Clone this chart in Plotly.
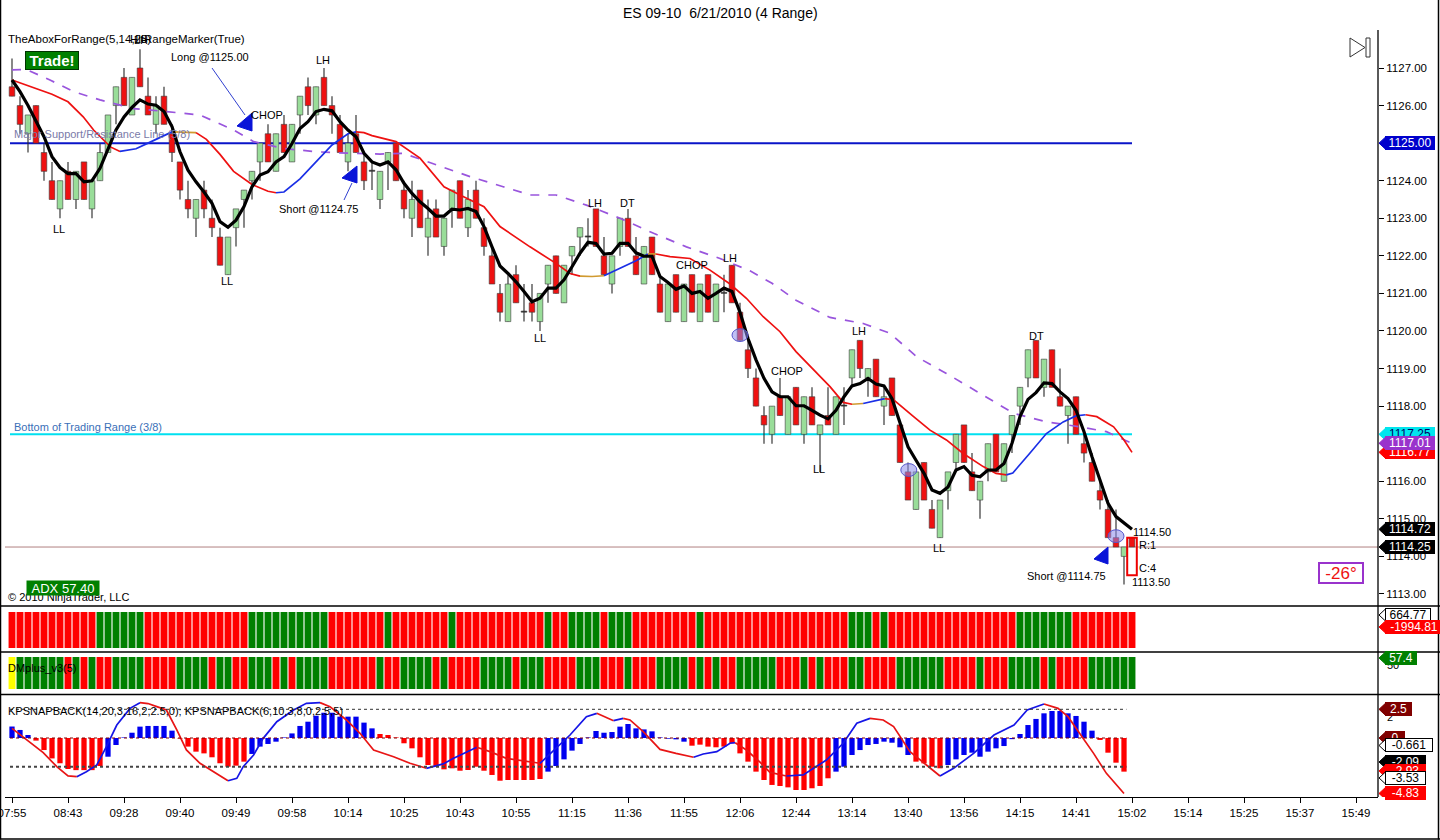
import plotly.graph_objects as go

# ---------------------------------------------------------------- data
TITLE = "ES 09-10  6/21/2010 (4 Range)"
time_labels = ["07:55", "08:43", "09:28", "09:40", "09:49", "09:58", "10:14", "10:25",
               "10:43", "10:55", "11:15", "11:36", "11:55", "12:06", "12:44", "13:14",
               "13:40", "13:56", "14:15", "14:41", "15:02", "15:14", "15:25", "15:37", "15:49"]
bars_per_label = 7
price_ticks = [1113, 1114, 1115, 1116, 1117, 1118, 1119, 1120, 1121, 1122, 1123, 1124, 1125, 1126, 1127]

opens = [
    1126.5, 1126.0, 1125.25, 1126.0, 1124.75, 1124.0, 1123.25, 1124.25, 1123.5, 1124.5,
    1123.25, 1124.0, 1124.75, 1126.0, 1126.75, 1125.75, 1127.0, 1126.25, 1125.5, 1126.25,
    1125.25, 1124.5, 1123.5, 1123.0, 1123.75, 1123.0, 1122.5, 1121.5, 1122.75, 1123.5,
    1124.0, 1124.5, 1125.25, 1124.25, 1125.5, 1124.5, 1125.75, 1126.5, 1125.75, 1126.75,
    1126.0, 1125.5, 1124.5, 1125.25, 1124.5, 1124.25, 1123.5, 1124.5, 1125.0, 1123.75,
    1123.0, 1123.75, 1122.5, 1123.25, 1122.25, 1123.25, 1124.0, 1122.75, 1123.75, 1122.75,
    1122.0, 1121.0, 1120.25, 1121.5, 1120.5, 1120.75, 1120.25, 1121.25, 1122.0, 1120.75,
    1122.0, 1122.5, 1122.5, 1123.25, 1122.0, 1121.25, 1122.25, 1123.0, 1122.0, 1121.25,
    1122.5, 1121.25, 1120.25, 1121.5, 1120.25, 1121.5, 1120.25, 1121.5, 1120.25, 1121.0,
    1121.75, 1120.5, 1119.5, 1118.75, 1117.75, 1117.25, 1118.25, 1117.25, 1118.5, 1117.25,
    1118.25, 1117.25, 1117.75, 1117.25, 1118.0, 1118.75, 1119.75, 1118.75, 1119.25, 1118.0,
    1118.75, 1117.5, 1116.25, 1115.25, 1116.5, 1115.25, 1114.5, 1115.75, 1116.5, 1117.5,
    1116.25, 1115.5, 1116.25, 1117.25, 1116.0, 1117.25, 1118.0, 1118.75, 1119.75, 1118.5,
    1119.5, 1118.25, 1117.75, 1118.25, 1117.0, 1116.5, 1115.75, 1115.25, 1114.5, 1114.0,
    1114.5]
highs = [
    1127.25, 1126.25, 1125.75, 1126.0, 1125.0, 1124.5, 1124.0, 1124.5, 1124.25, 1124.5,
    1124.0, 1125.0, 1125.75, 1126.5, 1127.0, 1126.75, 1127.5, 1126.75, 1126.25, 1126.5,
    1125.5, 1124.5, 1124.0, 1123.5, 1124.0, 1123.5, 1122.75, 1122.5, 1123.25, 1123.75,
    1124.25, 1125.0, 1125.5, 1125.25, 1125.75, 1125.5, 1126.25, 1126.75, 1126.5, 1127.0,
    1126.25, 1125.75, 1125.25, 1125.75, 1124.75, 1124.5, 1124.25, 1124.75, 1125.0, 1124.0,
    1124.0, 1123.75, 1123.5, 1123.5, 1123.0, 1123.75, 1124.0, 1123.75, 1124.0, 1123.0,
    1122.25, 1121.25, 1121.5, 1121.75, 1121.25, 1121.25, 1121.0, 1121.75, 1122.0, 1121.75,
    1122.25, 1122.75, 1123.0, 1123.25, 1122.5, 1122.0, 1123.0, 1123.25, 1122.5, 1122.25,
    1122.5, 1121.5, 1121.25, 1121.5, 1121.25, 1121.5, 1121.25, 1121.5, 1121.25, 1121.5,
    1121.75, 1120.75, 1119.75, 1119.0, 1118.0, 1118.0, 1118.75, 1118.25, 1118.5, 1118.25,
    1118.5, 1117.5, 1118.5, 1118.25, 1118.5, 1119.5, 1119.75, 1119.0, 1119.25, 1118.5,
    1118.75, 1117.5, 1116.5, 1116.25, 1116.5, 1115.5, 1115.5, 1116.25, 1117.25, 1117.5,
    1116.75, 1116.0, 1117.0, 1117.25, 1117.0, 1117.75, 1118.5, 1119.5, 1119.75, 1119.25,
    1119.5, 1119.0, 1118.0, 1118.25, 1117.25, 1116.75, 1116.0, 1115.5, 1115.25, 1114.25,
    1114.5]
lows = [
    1126.25, 1125.25, 1124.75, 1125.0, 1124.0, 1123.5, 1123.0, 1123.5, 1123.25, 1123.5,
    1123.0, 1124.0, 1124.75, 1125.5, 1126.0, 1125.75, 1126.5, 1125.75, 1125.25, 1125.5,
    1124.5, 1123.5, 1123.0, 1122.5, 1123.0, 1122.5, 1121.75, 1121.5, 1122.25, 1122.75,
    1123.5, 1124.0, 1124.5, 1124.25, 1124.75, 1124.5, 1125.25, 1125.75, 1125.5, 1126.0,
    1125.25, 1124.75, 1124.25, 1124.75, 1123.75, 1123.75, 1123.25, 1123.75, 1124.0, 1123.0,
    1122.5, 1122.75, 1122.0, 1122.5, 1122.0, 1122.75, 1123.0, 1122.5, 1123.0, 1122.0,
    1121.25, 1120.25, 1120.25, 1120.75, 1120.25, 1120.25, 1120.0, 1120.75, 1121.0, 1120.75,
    1121.5, 1122.0, 1122.25, 1122.25, 1121.5, 1121.0, 1122.0, 1122.25, 1121.5, 1121.25,
    1121.5, 1120.5, 1120.25, 1120.5, 1120.25, 1120.5, 1120.25, 1120.5, 1120.25, 1120.5,
    1120.75, 1119.75, 1118.75, 1118.0, 1117.0, 1117.0, 1117.75, 1117.25, 1117.5, 1117.0,
    1117.5, 1116.25, 1117.5, 1117.25, 1117.5, 1118.5, 1118.75, 1118.25, 1118.25, 1117.5,
    1117.75, 1116.5, 1115.5, 1115.25, 1115.5, 1114.75, 1114.5, 1115.25, 1116.25, 1116.5,
    1115.75, 1115.0, 1116.0, 1116.25, 1116.0, 1116.75, 1117.5, 1118.5, 1118.75, 1118.25,
    1118.5, 1118.0, 1117.0, 1117.25, 1116.5, 1116.0, 1115.25, 1114.5, 1114.25, 1113.25,
    1114.25]
closes = [
    1126.25, 1125.5, 1125.75, 1125.0, 1124.25, 1123.5, 1124.0, 1123.5, 1124.25, 1123.5,
    1124.0, 1124.75, 1125.75, 1126.5, 1126.0, 1126.75, 1126.5, 1125.75, 1126.0, 1125.5,
    1124.75, 1123.75, 1123.25, 1123.5, 1123.25, 1122.75, 1121.75, 1122.5, 1123.25, 1123.75,
    1124.25, 1125.0, 1124.5, 1125.25, 1124.75, 1125.5, 1126.25, 1126.0, 1126.5, 1126.0,
    1125.75, 1124.75, 1125.0, 1124.75, 1124.0, 1124.25, 1124.25, 1124.75, 1124.0, 1123.25,
    1123.5, 1122.75, 1123.0, 1122.5, 1123.0, 1123.75, 1123.0, 1123.5, 1123.0, 1122.25,
    1121.25, 1120.5, 1121.25, 1120.75, 1120.5, 1120.5, 1121.0, 1121.75, 1121.0, 1121.75,
    1122.25, 1122.75, 1122.5, 1122.25, 1121.5, 1122.0, 1123.0, 1122.25, 1121.5, 1122.25,
    1121.5, 1120.5, 1121.25, 1120.5, 1121.25, 1120.5, 1121.25, 1120.5, 1121.25, 1121.0,
    1120.75, 1119.75, 1119.0, 1118.0, 1117.5, 1118.0, 1117.75, 1118.25, 1117.5, 1118.25,
    1117.5, 1117.5, 1117.5, 1118.25, 1118.0, 1119.5, 1119.0, 1119.0, 1118.25, 1118.25,
    1117.75, 1116.5, 1115.5, 1116.25, 1115.5, 1114.75, 1115.5, 1116.25, 1117.25, 1116.5,
    1115.75, 1116.0, 1117.0, 1116.25, 1117.0, 1117.75, 1118.5, 1119.5, 1118.75, 1119.25,
    1118.5, 1118.0, 1118.0, 1117.25, 1116.75, 1116.0, 1115.5, 1114.5, 1114.25, 1114.25,
    1114.25]

# thick black fast average (one value per bar)
fast_avg = [
    1126.68, 1126.37, 1126.0, 1125.6, 1125.17, 1124.64, 1124.35, 1124.19, 1124.19, 1123.97,
    1124.0, 1124.33, 1124.86, 1125.35, 1125.7, 1125.95, 1126.15, 1126.04, 1126.01, 1125.84,
    1125.44, 1124.77, 1124.28, 1123.97, 1123.7, 1123.4, 1122.91, 1122.76, 1122.95, 1123.31,
    1123.84, 1124.15, 1124.24, 1124.5, 1124.64, 1124.99, 1125.39, 1125.57, 1125.84, 1125.9,
    1125.86, 1125.57, 1125.35, 1125.17, 1124.73, 1124.5, 1124.42, 1124.5, 1124.29, 1123.93,
    1123.66, 1123.44, 1123.26, 1123.06, 1123.06, 1123.24, 1123.22, 1123.26, 1123.18, 1122.78,
    1122.24, 1121.73, 1121.53, 1121.31, 1121.05, 1120.78, 1120.87, 1121.14, 1121.14, 1121.36,
    1121.71, 1122.07, 1122.36, 1122.33, 1122.05, 1122.07, 1122.33, 1122.33, 1122.08, 1121.99,
    1121.99, 1121.45, 1121.29, 1121.11, 1121.2, 1121.0, 1121.05, 1120.87, 1121.0, 1121.14,
    1121.05, 1120.5, 1119.8, 1119.23, 1118.74, 1118.38, 1118.25, 1118.25, 1118.01, 1118.01,
    1117.89, 1117.76, 1117.66, 1117.89, 1118.25, 1118.54, 1118.6, 1118.74, 1118.59, 1118.54,
    1118.2, 1117.54, 1116.92, 1116.56, 1116.21, 1115.77, 1115.68, 1115.85, 1116.3, 1116.39,
    1116.16, 1116.12, 1116.3, 1116.3, 1116.47, 1117.01, 1117.72, 1118.18, 1118.36, 1118.62,
    1118.6, 1118.38, 1118.2, 1117.89, 1117.32, 1116.65, 1116.03, 1115.41, 1115.06, 1114.88,
    1114.72]

# medium average (red / orange / blue by direction), sampled (bar, price)
mid_avg = [
    (0, 1126.68), (1, 1126.6), (3, 1126.45), (5, 1126.3), (7, 1126.1), (8.9, 1125.7),
    (10.2, 1125.35), (12.3, 1124.9), (13.5, 1124.78), (15.5, 1124.85), (17, 1125.0),
    (18.5, 1125.15), (20, 1125.3), (21.5, 1125.3), (23, 1125.28), (24.3, 1125.1),
    (26, 1124.7), (27.7, 1124.25), (30, 1123.9), (32, 1123.72), (33, 1123.68), (34, 1123.7),
    (36, 1124.05), (38, 1124.5), (40, 1124.95), (42, 1125.25), (43, 1125.3), (44, 1125.28),
    (45, 1125.2), (48, 1125.04), (51, 1124.6), (54, 1123.84), (56, 1123.62), (59, 1123.31),
    (61, 1122.78), (64.75, 1122.24), (68, 1121.8), (69.75, 1121.53), (71, 1121.46),
    (72.5, 1121.45), (74, 1121.47), (76.5, 1121.71), (78, 1121.87), (79.5, 1122.05),
    (80.5, 1122.05), (82.25, 1121.98), (84.75, 1121.93), (87.25, 1121.62), (89.75, 1121.25),
    (91.8, 1120.87), (93.9, 1120.38), (96, 1119.98), (98, 1119.45), (100.1, 1119.0),
    (102.25, 1118.52), (103.9, 1118.1), (105, 1118.05), (106.4, 1118.07), (108, 1118.14),
    (109.1, 1118.2), (110.2, 1118.17), (112.7, 1117.72), (114.75, 1117.36), (116.8, 1117.1),
    (118.9, 1116.74), (121.4, 1116.39), (123, 1116.21), (124.3, 1116.17), (125.1, 1116.22),
    (127.2, 1116.74), (129.3, 1117.27), (131.4, 1117.58), (133, 1117.74), (134.2, 1117.77),
    (135.6, 1117.72), (137.7, 1117.45), (139, 1117.1), (140, 1116.77)]

# slow dashed purple average, sampled (bar, price)
slow_avg = [
    (0, 1126.95), (1.8, 1126.96), (4.75, 1126.68), (7.7, 1126.37), (11, 1126.15),
    (15.2, 1125.92), (19.3, 1125.84), (23.5, 1125.75), (27.7, 1125.35), (30.2, 1125.04),
    (33.9, 1124.86), (38, 1124.77), (42.25, 1124.73), (46, 1124.71), (48.9, 1124.73),
    (53.1, 1124.42), (57.25, 1124.11), (61.4, 1123.84), (64.75, 1123.62), (68, 1123.62),
    (71.8, 1123.35), (76, 1123.0), (80.2, 1122.6), (84.3, 1122.24), (88.5, 1121.93),
    (92.25, 1121.6), (95, 1121.27), (98, 1120.82), (102.25, 1120.36), (106.4, 1120.2),
    (109.75, 1119.94), (113.1, 1119.31), (116.8, 1118.87), (121, 1118.34), (125.2, 1117.81),
    (129.3, 1117.58), (133.5, 1117.45), (136.8, 1117.32), (140, 1117.01)]

support_level = 1125.00
range_bottom = 1117.25
last_price = 1114.25

# colour strips (runs of R / G / Y)
trend_runs = [("R", 11), ("G", 6), ("R", 13), ("G", 10), ("R", 7), ("G", 1), ("R", 7),
              ("G", 1), ("R", 11), ("G", 1), ("R", 2), ("G", 4), ("R", 1), ("G", 3),
              ("R", 8), ("G", 1), ("R", 18), ("G", 3), ("R", 1), ("G", 1), ("R", 16),
              ("G", 7), ("R", 8)]
dmplus_runs = [("Y", 1), ("G", 6), ("R", 1), ("G", 1), ("R", 1), ("G", 1), ("R", 2), ("G", 4),
               ("R", 4), ("G", 4), ("R", 1), ("G", 2), ("R", 2), ("G", 3), ("R", 1), ("G", 1),
               ("R", 1), ("G", 4), ("R", 6), ("G", 1), ("R", 2), ("G", 4), ("R", 1), ("G", 1),
               ("R", 4), ("G", 4), ("R", 1), ("G", 3), ("R", 4), ("G", 3), ("R", 3), ("G", 1),
               ("R", 3), ("G", 4), ("R", 1), ("G", 1), ("R", 1), ("G", 1), ("R", 2), ("G", 5),
               ("R", 3), ("G", 1), ("R", 1), ("G", 1), ("R", 3), ("G", 2), ("R", 4), ("G", 6),
               ("R", 4), ("G", 1), ("R", 3), ("G", 4), ("R", 1), ("G", 1), ("R", 4), ("G", 6)]

# KPSNAPBACK histogram (one value per bar, last bar not yet computed)
snap_hist = [
    1.0, 0.7, 0.26, -0.23, -1.05, -1.78, -2.2, -2.7, -2.8, -2.8,
    -2.8, -2.44, -1.63, -0.61, 0.05, 0.46, 0.99, 1.05, 1.05, 1.05,
    0.64, -0.05, -0.75, -1.19, -1.34, -1.68, -2.2, -2.5, -2.41, -2.06,
    -1.39, -0.75, -0.52, -0.32, 0.05, 0.4, 1.05, 1.42, 1.94, 2.2,
    2.2, 1.86, 1.86, 1.86, 1.34, 0.84, 0.35, 0.26, 0.05, -0.46,
    -0.9, -1.68, -2.35, -2.5, -2.73, -2.64, -2.85, -2.79, -2.5, -2.85,
    -3.22, -3.72, -3.66, -3.66, -3.66, -3.66, -3.57, -2.93, -2.44, -1.86,
    -1.1, -0.52, 0.05, 0.61, 0.46, 0.52, 0.99, 1.22, 0.84, 0.75,
    0.58, 0.05, -0.06, -0.12, -0.32, -0.67, -0.58, -0.75, -0.81, -0.75,
    -0.46, -1.34, -2.06, -2.93, -3.66, -4.09, -4.18, -4.3, -4.53, -4.53,
    -4.38, -4.18, -3.51, -2.93, -2.5, -1.48, -1.05, -0.61, -0.52, -0.32,
    -0.41, -0.81, -1.48, -2.06, -2.21, -2.5, -2.64, -2.35, -1.86, -1.48,
    -1.28, -1.63, -1.19, -0.9, -0.7, -0.1, 0.35, 1.13, 1.66, 2.15,
    2.35, 2.35, 2.15, 1.92, 1.42, 0.64, -0.17, -1.28, -2.15, -2.93]
snap_hist_runs = [("B", 3), ("R", 9), ("B", 9), ("R", 9), ("B", 16), ("R", 21), ("B", 18),
                  ("R", 18), ("B", 10), ("R", 4), ("B", 19), ("R", 4)]

# KPSNAPBACK signal line, sampled (bar, value)
snap_line = [
    (0, 0.84), (1.8, -0.17), (3.9, -1.27), (5.6, -2.5), (7, -3.3), (8.1, -3.37),
    (9.3, -2.93), (10.6, -2.35), (11.8, -0.75), (13.1, 1.13), (14.75, 2.58), (16, 3.08),
    (17, 3.0), (18.1, 2.73), (19.3, 2.44), (20.6, 0.7), (21.8, -1.04), (23.5, -2.2),
    (25.2, -2.93), (27, -3.72), (28.1, -3.51), (28.9, -2.5), (30.2, -1.48), (31.4, -0.03),
    (33.1, 1.42), (35.2, 2.44), (36.8, 3.02), (38.5, 3.08), (39.75, 2.73), (41.8, 1.57),
    (43.5, 0.41), (45.2, -1.04), (47.7, -1.63), (49.75, -2.2), (51.8, -2.64), (53.9, -2.26),
    (55.2, -1.77), (58.1, -0.81), (59.75, -1.19), (61.8, -1.77), (63.9, -2.0), (66, -2.2),
    (67.7, -1.05), (69.75, 0.26), (71.8, 1.86), (73.1, 2.15), (75.2, 1.51), (76.4, 1.71),
    (77.25, 1.57), (78.9, 0.55), (81, -0.99), (83, -1.34), (85.2, -1.68), (86.4, -1.39),
    (88.1, -1.19), (89.75, -0.46), (90.4, -0.41), (91.8, -1.05), (93.5, -2.1), (94.75, -3.0),
    (96.8, -3.31), (98.9, -3.22), (100.2, -2.64), (101.8, -1.92), (103.9, -0.46),
    (105.6, 1.28), (107.25, 1.71), (108.9, 1.57), (110.2, 0.99), (112.25, -1.19),
    (114.3, -2.35), (116, -3.31), (117.7, -2.64), (120.2, -1.34), (122.75, 0.26),
    (125.25, 1.13), (126.9, 2.44), (129, 2.96), (130.75, 2.58), (132, 1.86), (133.5, 0.41),
    (135.2, -1.34), (136.8, -3.08), (138.9, -4.76), (139, -4.83)]
snap_levels = [2.5, 0.0, -2.5]

# chart markers: (text, bar, price)
swing_labels = [("LL", 5.9, 1122.71), ("LL", 26.9, 1121.33), ("LH", 16.1, 1127.75),
                ("CHOP", 31.9, 1125.75), ("LH", 38.9, 1127.21), ("LH", 72.9, 1123.41),
                ("DT", 76.9, 1123.41), ("LL", 66.0, 1119.81), ("CHOP", 85.0, 1121.76),
                ("LH", 89.75, 1121.94), ("CHOP", 96.9, 1118.93), ("LL", 100.9, 1116.33),
                ("LH", 105.9, 1120.0), ("DT", 128.0, 1119.87), ("LL", 115.9, 1114.22)]
hit_markers = [(91.0, 1119.89), (112.1, 1116.3), (138.0, 1114.54)]
price_tags = [("1125.00", 1125.00, "#0000CC", "white"), ("1117.25", 1117.25, "#00E5EE", "#000066"),
              ("1116.77", 1116.77, "#FF0000", "white"), ("1117.01", 1117.01, "#9933CC", "white"),
              ("1114.72", 1114.72, "#000000", "white"), ("1114.25", 1114.25, "#000000", "white")]
snap_tags = [("2.5", 2.5, "#800000", "white", None), ("0", 0.0, "#800000", "white", None),
             ("-0.661", -0.65, "white", "black", "black"), ("-2.09", -2.09, "#000000", "white", None),
             ("-2.93", -2.87, "#FF0000", "white", None), ("-3.53", -3.48, "white", "black", "black"),
             ("-4.83", -4.83, "#FF0000", "white", None)]

# ---------------------------------------------------------------- helpers
FONT = "Arial, Liberation Sans, sans-serif"
PX_L, PX_R, PY_T, PY_B = 5, 1378, 30, 797


def fx(px):
    return (px - PX_L) / (PX_R - PX_L)


def fy(py):
    return (PY_B - py) / (PY_B - PY_T)


def expand(runs):
    out = []
    for c, n in runs:
        out.extend([c] * n)
    return out


def slope_segments(pts, up, down, flat, tol):
    segs = []
    for i in range(len(pts) - 1):
        (x0, y0), (x1, y1) = pts[i], pts[i + 1]
        s = (y1 - y0) / (x1 - x0)
        c = up if s > tol else (down if s < -tol else flat)
        if segs and segs[-1][0] == c:
            segs[-1][1].append(x1)
            segs[-1][2].append(y1)
        else:
            segs.append([c, [x0, x1], [y0, y1]])
    return segs


n = len(closes)
idx = list(range(n))
fig = go.Figure()

# ---------------------------------------------------------------- price panel
wick_col = "#2a2a2a"
fig.add_trace(go.Bar(x=idx, y=[h - l for h, l in zip(highs, lows)], base=lows, width=0.14,
                     marker=dict(color=wick_col, line=dict(width=0)), xaxis="x", yaxis="y",
                     hoverinfo="skip"))
body_col, body_base, body_h = [], [], []
for o, c in zip(opens, closes):
    body_base.append(min(o, c))
    body_h.append(max(abs(c - o), 0.03))
    body_col.append("#99DD99" if c > o else ("#EE1111" if c < o else wick_col))
fig.add_trace(go.Bar(x=idx, y=body_h, base=body_base, width=0.7,
                     marker=dict(color=body_col, line=dict(color="#3a3a3a", width=0.6)),
                     xaxis="x", yaxis="y", hoverinfo="skip"))

fig.add_trace(go.Scatter(x=[p[0] for p in slow_avg], y=[p[1] for p in slow_avg], mode="lines",
                         line=dict(color="#9955DD", width=1.7, dash="dash"), xaxis="x", yaxis="y",
                         hoverinfo="skip"))
for col, xs, ys in slope_segments(mid_avg, "#1A2FE6", "#EE1111", "#D09A30", 0.018):
    fig.add_trace(go.Scatter(x=xs, y=ys, mode="lines", line=dict(color=col, width=1.7),
                             xaxis="x", yaxis="y", hoverinfo="skip"))
fig.add_trace(go.Scatter(x=idx, y=fast_avg, mode="lines", line=dict(color="black", width=3.2),
                         xaxis="x", yaxis="y", hoverinfo="skip"))

# ---------------------------------------------------------------- strips
strip_colors = {"R": "#FF0000", "G": "#008000", "Y": "#FFFF00"}
fig.add_trace(go.Bar(x=idx, y=[1] * n, base=0, width=0.86,
                     marker=dict(color=[strip_colors[c] for c in expand(trend_runs)], line=dict(width=0)),
                     xaxis="x", yaxis="y2", hoverinfo="skip"))
fig.add_trace(go.Bar(x=idx, y=[1] * n, base=0, width=0.86,
                     marker=dict(color=[strip_colors[c] for c in expand(dmplus_runs)], line=dict(width=0)),
                     xaxis="x", yaxis="y3", hoverinfo="skip"))

# ---------------------------------------------------------------- snapback panel
hist_colors = {"B": "#0000F0", "R": "#FF0000"}
fig.add_trace(go.Bar(x=list(range(len(snap_hist))), y=snap_hist, width=0.66,
                     marker=dict(color=[hist_colors[c] for c in expand(snap_hist_runs)], line=dict(width=0)),
                     xaxis="x", yaxis="y4", hoverinfo="skip"))
for col, xs, ys in slope_segments(snap_line, "#1515E6", "#E81515", "#E81515", 0.0):
    fig.add_trace(go.Scatter(x=xs, y=ys, mode="lines", line=dict(color=col, width=1.7),
                             xaxis="x", yaxis="y4", hoverinfo="skip"))

# ---------------------------------------------------------------- shapes
shapes = []
shapes.append(dict(type="line", xref="x", yref="y", x0=-0.25, x1=140, y0=support_level, y1=support_level,
                   line=dict(color="#0A14C8", width=2), layer="below"))
shapes.append(dict(type="line", xref="x", yref="y", x0=-0.25, x1=140, y0=range_bottom, y1=range_bottom,
                   line=dict(color="#00E0F0", width=2), layer="below"))
shapes.append(dict(type="line", xref="paper", yref="y", x0=0, x1=1, y0=last_price, y1=last_price,
                   line=dict(color="#B08080", width=1), layer="below"))
shapes.append(dict(type="line", xref="x", yref="y4", x0=-0.25, x1=139.3, y0=snap_levels[0], y1=snap_levels[0],
                   line=dict(color="#333333", width=1, dash="dot"), layer="above"))
shapes.append(dict(type="line", xref="x", yref="y4", x0=-0.25, x1=139.3, y0=snap_levels[1], y1=snap_levels[1],
                   line=dict(color="#800000", width=1, dash="dot"), layer="above"))
shapes.append(dict(type="line", xref="x", yref="y4", x0=-0.25, x1=139.3, y0=snap_levels[2], y1=snap_levels[2],
                   line=dict(color="#444444", width=2, dash="dot"), layer="above"))
for bx, py in hit_markers:
    shapes.append(dict(type="circle", xref="x", yref="y", x0=bx - 1.0, x1=bx + 1.0, y0=py - 0.17, y1=py + 0.17,
                       fillcolor="rgba(140,140,235,0.55)", line=dict(color="#5555CC", width=1), layer="above"))
shapes.append(dict(type="rect", xref="x", yref="y", x0=139.4, x1=140.6, y0=1113.5, y1=1114.5,
                   line=dict(color="#EE0000", width=2), layer="above"))


def tri(p1, p2, p3, col="#0A14D8"):
    path = "M {},{} L {},{} L {},{} Z".format(fx(p1[0]), fy(p1[1]), fx(p2[0]), fy(p2[1]), fx(p3[0]), fy(p3[1]))
    return dict(type="path", xref="paper", yref="paper", path=path, fillcolor=col,
                line=dict(color=col, width=1), layer="above")


shapes.append(tri((252, 113), (252, 131), (237, 126)))
shapes.append(tri((357, 166), (357, 183), (342, 178)))
shapes.append(tri((1108, 547), (1108, 564), (1094, 559)))
for a, b in [((212, 68), (245, 115)), ((344, 200), (352, 183))]:
    shapes.append(dict(type="line", xref="paper", yref="paper", x0=fx(a[0]), y0=fy(a[1]), x1=fx(b[0]), y1=fy(b[1]),
                       line=dict(color="#3040D0", width=1), layer="above"))


def pline(x0, y0, x1, y1, w=1.5, col="black"):
    return dict(type="line", xref="paper", yref="paper", x0=fx(x0), y0=fy(y0), x1=fx(x1), y1=fy(y1),
                line=dict(color=col, width=w), layer="above")


for ysep in (606, 652, 694.5):
    shapes.append(pline(0, ysep, 1440, ysep))
shapes.append(pline(1378, 30, 1378, 797, w=1.3))
shapes.append(pline(0.5, 0, 0.5, 839.5))
shapes.append(pline(1438.5, 0, 1438.5, 839.5))
shapes.append(pline(0, 839, 1440, 839))

shapes.append(dict(type="path", xref="paper", yref="paper",
                   path="M {},{} L {},{} L {},{} Z".format(fx(1350), fy(38), fx(1365), fy(47.5), fx(1350), fy(57)),
                   fillcolor="white", line=dict(color="#333333", width=1), layer="above"))
shapes.append(dict(type="rect", xref="paper", yref="paper", x0=fx(1366), x1=fx(1370), y0=fy(57), y1=fy(38),
                   fillcolor="white", line=dict(color="#333333", width=1), layer="above"))

# ---------------------------------------------------------------- annotations
ann = []


def text(px, py, s, size=11, color="black", anchor="left", **kw):
    ann.append(dict(x=fx(px), y=fy(py), xref="paper", yref="paper", text=s, showarrow=False,
                    xanchor=anchor, yanchor="middle", font=dict(family=FONT, size=size, color=color), **kw))


text(720, 13, TITLE, size=14, anchor="center")
text(6, 39, "TheAboxForRange(5,14,25)", size=11.5)
text(247, 39, "HitRangeMarker(True)", size=11.5, anchor="right")
text(210, 57, "Long @1125.00", size=11, anchor="center")
text(318, 209, "Short @1124.75", size=11, anchor="center")
text(1066, 576, "Short @1114.75", size=11, anchor="center")
text(12, 134, "Major Support/Resistance Line (5/8)", size=11, color="#7A7AA8")
text(12, 427, "Bottom of Trading Range (3/8)", size=11, color="#3A6FB8")
text(6, 597, "© 2010 NinjaTrader, LLC", size=11)
text(63, 588, "ADX 57.40", size=13, color="white", anchor="center", bgcolor="#008000",
     width=72, height=14, borderpad=0)
text(52, 61, "<b>Trade!</b>", size=15, color="white", anchor="center", bgcolor="#008000",
     bordercolor="#003300", borderwidth=1, width=52, height=17, borderpad=0)
text(1341, 573, "-26°", size=17, color="#EE1111", anchor="center", bgcolor="white",
     bordercolor="#9933CC", borderwidth=2, width=42, height=18, borderpad=0)
text(1131, 532, "1114.50", size=11)
text(1137, 545, "R:1", size=11)
text(1137, 568, "C:4", size=11)
text(1130, 582, "1113.50", size=11)
text(6, 668, "DMplus_v3(5)", size=11)
text(6, 711, "KPSNAPBACK(14,20,3,16,2,2.5,0); KPSNAPBACK(6,10,3,8,0,2.5,5)", size=11)
text(1385, 665, "50", size=11)
text(1385, 717, "2", size=11)

for s, bx, py in swing_labels:
    ann.append(dict(x=bx, y=py, xref="x", yref="y", text=s, showarrow=False, xanchor="center",
                    yanchor="middle", font=dict(family=FONT, size=11, color="black")))


def tag(yref, yc, half, s, fill, fg, border=None, w=48):
    border = border or fill
    shapes.append(dict(type="path", xref="paper", yref=yref,
                       path="M {},{} L {},{} L {},{} Z".format(fx(1379), yc, fx(1386), yc + half, fx(1386), yc - half),
                       fillcolor=fill, line=dict(color=border, width=1), layer="above"))
    ann.append(dict(x=fx(1385), y=yc, xref="paper", yref=yref, text=s, showarrow=False, xanchor="left",
                    yanchor="middle", bgcolor=fill, bordercolor=border, borderwidth=1, borderpad=0,
                    width=w, height=12, align="center", font=dict(family=FONT, size=12, color=fg)))


for s, p, fill, fg in price_tags:
    tag("y", p, 6.5 / 37.57, s, fill, fg)
tag("paper", fy(615), 6.5 / 767, "664.77", "white", "black", border="black", w=44)
tag("paper", fy(627), 6.5 / 767, "-1994.81", "#FF0000", "white", w=56)
tag("paper", fy(658), 6.5 / 767, "57.4", "#008000", "white", w=30)
for s, v, fill, fg, border in snap_tags:
    tag("y4", v, 6.5 / 11.48, s, fill, fg, border=border, w=max(18, 7 * len(s) + 4))

# ---------------------------------------------------------------- layout
tick_pos = [i * bars_per_label for i in range(len(time_labels))]
axis_common = dict(showgrid=False, zeroline=False, fixedrange=True, automargin=False)
fig.update_layout(
    width=1440, height=840, autosize=False,
    margin=dict(l=PX_L, r=1440 - PX_R, t=PY_T, b=840 - PY_B, pad=0, autoexpand=False),
    paper_bgcolor="white", plot_bgcolor="white",
    barmode="overlay", showlegend=False, hovermode=False, dragmode=False,
    font=dict(family=FONT, size=11, color="black"),
    xaxis=dict(domain=[0, 1], anchor="y4", range=[(PX_L - 12) / 8, (PX_R - 12) / 8],
               tickmode="array", tickvals=tick_pos, ticktext=time_labels, ticklabeloverflow="allow",
               ticks="outside", ticklen=5, tickcolor="black", showline=True, linecolor="black",
               linewidth=1, tickfont=dict(family=FONT, size=11.5, color="black"), **axis_common),
    yaxis=dict(domain=[fy(605), 1], anchor="x", side="right",
               range=[1127 - (605 - 68) / 37.57, 1127 + (68 - 30) / 37.57],
               tickmode="array", tickvals=price_ticks, ticktext=["%.2f" % t for t in price_ticks],
               ticks="outside", ticklen=5, tickcolor="black", showline=False,
               tickfont=dict(family=FONT, size=11.5, color="black"), **axis_common),
    yaxis2=dict(domain=[fy(651), fy(606)], anchor="x", side="right", range=[-3 / 36, 1 + 6 / 36],
                showticklabels=False, ticks="", **axis_common),
    yaxis3=dict(domain=[fy(694), fy(652)], anchor="x", side="right", range=[-5 / 32, 1 + 5 / 32],
                showticklabels=False, ticks="", **axis_common),
    yaxis4=dict(domain=[0, fy(695)], anchor="x", side="right", range=[-59 / 11.48, 43 / 11.48],
                showticklabels=False, ticks="", **axis_common),
    shapes=shapes, annotations=ann,
)

fig.write_html("out.html", config={"displayModeBar": False, "staticPlot": True},
               post_script="document.body.style.margin='0';document.body.style.padding='0';"
                           "document.body.style.overflow='hidden';")
